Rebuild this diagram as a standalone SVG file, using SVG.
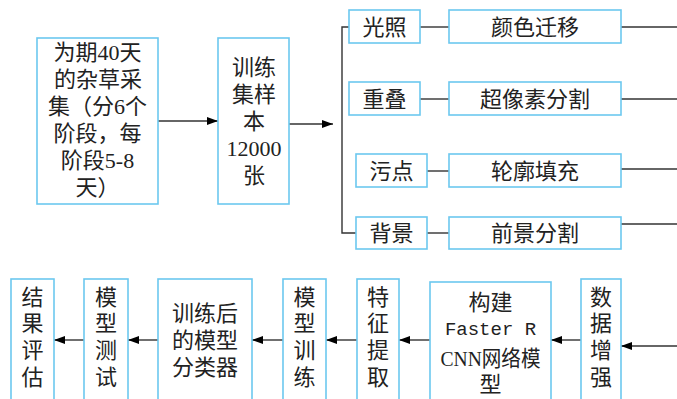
<svg xmlns="http://www.w3.org/2000/svg" width="677" height="399" viewBox="0 0 677 399">
<defs>
<marker id="ah" markerWidth="12" markerHeight="10" refX="11" refY="5" orient="auto" markerUnits="userSpaceOnUse">
<path d="M0,1 L11,5 L0,9 Z" fill="#000"/>
</marker>
<style>
.box{fill:#fff;stroke:#6cc8ef;stroke-width:1.6}
.t{font-family:"Liberation Serif","Noto Sans CJK SC",serif;font-size:22px;fill:#222;text-anchor:middle;dominant-baseline:central}
.m{font-family:"Liberation Mono","Noto Sans CJK SC",monospace;font-size:19px}
.ln{stroke:#333;stroke-width:1.4;fill:none}
.ar{stroke:#333;stroke-width:1.4;fill:none;marker-end:url(#ah)}
</style>
</defs>
<rect width="677" height="399" fill="#fff"/>
<g id="connectors">
<line class="ar" x1="158" y1="121" x2="218" y2="121"/>
<line class="ar" x1="289" y1="124" x2="333" y2="124"/>
<polyline class="ln" points="349,27 342,27 342,233 356,233"/>
<line class="ln" x1="420" y1="27" x2="449" y2="27"/>
<line class="ln" x1="420" y1="99" x2="449" y2="99"/>
<line class="ln" x1="427" y1="171" x2="449" y2="171"/>
<line class="ln" x1="427" y1="233" x2="449" y2="233"/>
<line class="ln" x1="621" y1="27" x2="677" y2="27"/>
<line class="ln" x1="621" y1="99" x2="677" y2="99"/>
<line class="ln" x1="621" y1="169" x2="677" y2="169"/>
<line class="ln" x1="621" y1="224" x2="677" y2="224"/>
<line class="ar" x1="677" y1="346" x2="621" y2="346"/>
<line class="ar" x1="581" y1="340" x2="551" y2="340"/>
<line class="ar" x1="430" y1="340" x2="399" y2="340"/>
<line class="ar" x1="357" y1="340" x2="326" y2="340"/>
<line class="ar" x1="283" y1="340" x2="252" y2="340"/>
<line class="ar" x1="158" y1="340" x2="128" y2="340"/>
<line class="ar" x1="84" y1="340" x2="54" y2="340"/>
</g>
<g id="n_collect">
<rect class="box" x="37" y="38" width="121" height="166"/>
<text class="t" x="97.5" y="52">为期40天</text>
<text class="t" x="98" y="79">的杂草采</text>
<text class="t" x="97.5" y="106">集（分6个</text>
<text class="t" x="97.5" y="133">阶段，每</text>
<text class="t" x="97.5" y="160">阶段5-8</text>
<text class="t" x="97.5" y="187">天）</text>
</g>
<g id="n_train_set">
<rect class="box" x="218" y="38" width="71" height="166"/>
<text class="t" x="254" y="67">训练</text>
<text class="t" x="254" y="94">集样</text>
<text class="t" x="254" y="121">本</text>
<text class="t" x="254" y="148">12000</text>
<text class="t" x="254" y="175">张</text>
</g>
<g id="n_light"><rect class="box" x="349" y="10" width="71" height="33"/><text class="t" x="384.5" y="27">光照</text></g>
<g id="n_color"><rect class="box" x="449" y="10" width="172" height="33"/><text class="t" x="535" y="27">颜色迁移</text></g>
<g id="n_overlap"><rect class="box" x="349" y="82" width="71" height="33"/><text class="t" x="384.5" y="99">重叠</text></g>
<g id="n_superpixel"><rect class="box" x="449" y="82" width="172" height="33"/><text class="t" x="535" y="99">超像素分割</text></g>
<g id="n_stain"><rect class="box" x="356" y="154" width="71" height="33"/><text class="t" x="391.5" y="171">污点</text></g>
<g id="n_contour"><rect class="box" x="449" y="154" width="172" height="33"/><text class="t" x="535" y="171">轮廓填充</text></g>
<g id="n_bg"><rect class="box" x="356" y="217" width="71" height="32"/><text class="t" x="391.5" y="233">背景</text></g>
<g id="n_fgseg"><rect class="box" x="449" y="217" width="172" height="32"/><text class="t" x="535" y="233">前景分割</text></g>
<g id="n_eval">
<rect class="box" x="11" y="279" width="43" height="130"/>
<text class="t" x="32.5" y="297">结</text><text class="t" x="32.5" y="323">果</text><text class="t" x="32.5" y="350">评</text><text class="t" x="32.5" y="377">估</text>
</g>
<g id="n_test">
<rect class="box" x="84" y="279" width="44" height="130"/>
<text class="t" x="106" y="297">模</text><text class="t" x="106" y="323">型</text><text class="t" x="106" y="350">测</text><text class="t" x="106" y="377">试</text>
</g>
<g id="n_classifier">
<rect class="box" x="158" y="279" width="94" height="130"/>
<text class="t" x="205" y="313">训练后</text><text class="t" x="205" y="340">的模型</text><text class="t" x="205" y="367">分类器</text>
</g>
<g id="n_modeltrain">
<rect class="box" x="283" y="279" width="43" height="130"/>
<text class="t" x="304.5" y="297">模</text><text class="t" x="304.5" y="323">型</text><text class="t" x="304.5" y="350">训</text><text class="t" x="304.5" y="377">练</text>
</g>
<g id="n_feature">
<rect class="box" x="357" y="279" width="42" height="130"/>
<text class="t" x="378" y="297">特</text><text class="t" x="378" y="323">征</text><text class="t" x="378" y="350">提</text><text class="t" x="378" y="377">取</text>
</g>
<g id="n_build">
<rect class="box" x="430" y="282" width="121" height="127"/>
<text class="t" x="490.5" y="302">构建</text>
<text class="t m" x="490.5" y="330">Faster R</text>
<text class="t" x="490.5" y="358" textLength="100" lengthAdjust="spacingAndGlyphs">CNN网络模</text>
<text class="t" x="490.5" y="384">型</text>
</g>
<g id="n_augment">
<rect class="box" x="581" y="279" width="40" height="130"/>
<text class="t" x="601" y="297">数</text><text class="t" x="601" y="323">据</text><text class="t" x="601" y="350">增</text><text class="t" x="601" y="377">强</text>
</g>
</svg>
